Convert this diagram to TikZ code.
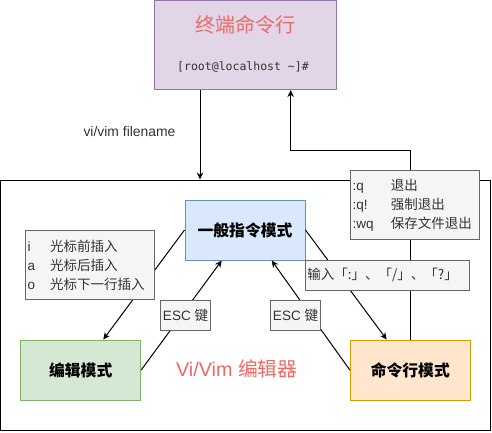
\documentclass[tikz,border=0pt]{standalone}
\usepackage{fontspec}
\setmainfont{Liberation Sans}
\setmonofont{DejaVu Sans Mono}
\newfontfamily\cjk{Noto Sans CJK SC}
\usetikzlibrary{arrows.meta}
\definecolor{cgr}{HTML}{666666}
\definecolor{clf}{HTML}{F5F5F5}
\definecolor{ctx}{HTML}{333333}
\definecolor{cred}{HTML}{EA6B66}
\definecolor{cpurS}{HTML}{9673A6}
\definecolor{cpurF}{HTML}{E1D5E7}
\definecolor{cbluS}{HTML}{6C8EBF}
\definecolor{cbluF}{HTML}{DAE8FC}
\definecolor{cgrnS}{HTML}{82B366}
\definecolor{cgrnF}{HTML}{D5E8D4}
\definecolor{corgS}{HTML}{D79B00}
\definecolor{corgF}{HTML}{FFE6CC}
\begin{document}
\begin{tikzpicture}[x=1pt,y=1pt,
  modebox/.style={draw, line width=1pt, minimum width=120pt, minimum height=60pt, inner sep=0pt, font=\cjk\bfseries\fontsize{15.8}{18}\selectfont},
  lbl/.style={draw=cgr, fill=clf, line width=1pt, inner sep=0pt, text=ctx, font=\fontsize{13.5}{18.7}\selectfont},
  conn/.style={line width=1pt, draw=black, -{Stealth[length=7pt,width=6.5pt]}}]
\useasboundingbox (0,0) rectangle (492,-432);
% outer frame
\node[draw=black, line width=1pt, minimum width=490pt, minimum height=250pt, inner sep=0pt] (frame) at (245.5,-305) {};
% terminal box
\node[draw=cpurS, fill=cpurF, line width=1pt, minimum width=182pt, minimum height=89pt, inner sep=0pt] (term) at (245,-45) {};
\node[font=\cjk\fontsize{20}{22}\selectfont, text=cred] (title) at (245,-25) {终端命令行};
\node[font=\ttfamily\fontsize{11.5}{13}\selectfont, text=ctx] (prompt) at (243,-67) {[root@localhost \textasciitilde]\#};
% mode boxes
\node[modebox, draw=cbluS, fill=cbluF] (gen) at (245,-230) {一般指令模式};
\node[modebox, draw=cgrnS, fill=cgrnF] (edit) at (80.7,-370) {编辑模式};
\node[modebox, draw=corgS, fill=corgF] (cmd) at (410.3,-370) {命令行模式};
\node[text=cred, font=\fontsize{19.8}{22}\selectfont] (vimlbl) at (236.8,-369) {Vi/Vim {\cjk 编辑器}};
\node[text=ctx, font=\fontsize{13.9}{16}\selectfont] (fn) at (129.5,-131.7) {vi/vim filename};
% connectors
\draw[conn] ([xshift=-45pt]term.south) -- ([xshift=-45pt]term.south |- frame.north);
\draw[conn] (gen.west) -- ([xshift=22.6pt]edit.north);
\draw[conn] (edit.east) -- ([xshift=-23.3pt]gen.south);
\draw[conn] (cmd.west) -- ([xshift=26.7pt]gen.south);
\draw[conn] (gen.east) -- ([xshift=-23.6pt]cmd.north);
\coordinate (rb) at (410.3,-150);
\coordinate (lb) at (290.7,-150);
\draw[conn] (cmd.north) -- (rb) -- (lb) -- (lb |- term.south);
% labels
\node[lbl, minimum width=129.5pt, minimum height=69.5pt, text width=125pt, align=left] (ins) at (90.2,-265.2)
 {\makebox[22.3pt][l]{i}{\cjk 光标前插入}\\
  \makebox[22.3pt][l]{a}{\cjk 光标后插入}\\
  \makebox[22.3pt][l]{o}{\cjk 光标下一行插入}};
\node[lbl, minimum width=129.3pt, minimum height=69.3pt, text width=125.3pt, align=left] (quit) at (415.3,-205.3)
 {\makebox[38.3pt][l]{:q}{\cjk 退出}\\
  \makebox[38.3pt][l]{:q!}{\cjk 强制退出}\\
  \makebox[38.3pt][l]{:wq}{\cjk 保存文件退出}};
\node[lbl, minimum width=164.3pt, minimum height=30pt, text width=161pt, align=left] (inp) at (387.8,-275)
 {{\cjk 输入「:」、「/」、「?」}};
\node[lbl, minimum width=50.3pt, minimum height=29.6pt] (escl) at (185.5,-315.5) {ESC {\cjk 键}};
\node[lbl, minimum width=50.3pt, minimum height=29.6pt] (escr) at (295.5,-315.5) {ESC {\cjk 键}};
\end{tikzpicture}
\end{document}
